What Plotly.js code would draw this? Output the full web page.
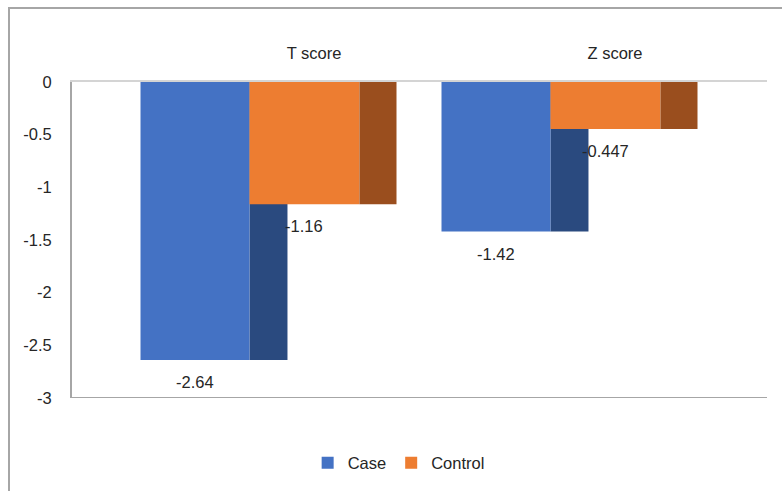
<!DOCTYPE html>
<html>
<head>
<meta charset="utf-8">
<script src="https://cdn.plot.ly/plotly-3.0.1.min.js"></script>
<style>
  html, body { margin: 0; padding: 0; background: #fff; }
  #wrap { position: relative; width: 782px; height: 491px; overflow: hidden; }
  #chart { position: absolute; left: 0; top: 0; width: 782px; height: 491px; }
  #frame { position: absolute; left: 8px; top: 7px; width: 800px; height: 500px;
           border-left: 2px solid #a6a6a6; border-top: 2px solid #a6a6a6;
           pointer-events: none; box-sizing: border-box; }
</style>
</head>
<body>
<div id="wrap">
  <div id="chart"></div>
  <div id="frame"></div>
</div>
<script>
// ---- data ----
const categories = ["T score", "Z score"];
const caseValues = [-2.64, -1.42];
const controlValues = [-1.16, -0.447];
const seriesNames = ["Case", "Control"];
const yTickValues = [0, -0.5, -1, -1.5, -2, -2.5, -3];
const yTickLabels = ["0", "-0.5", "-1", "-1.5", "-2", "-2.5", "-3"];

// ---- styling ----
const FONT = "Liberation Sans, Arial, sans-serif";
const FS = 16.5;
const TXT = "#262626";
const caseFront = "#4472C4", caseSide = "#2A4A7F";
const ctrlFront = "#ED7D31", ctrlSide = "#9A4E1E";

// geometry of the pseudo-3D bars (in category units)
const geo = {
  caseFront: {offset: -0.5764, width: 0.3621},
  caseSide:  {offset: -0.2143, width: 0.1262},
  ctrlFront: {offset: -0.2143, width: 0.3654},
  ctrlSide:  {offset:  0.1512, width: 0.1229}
};

function barTrace(values, g, color, name, showLegend) {
  return {
    type: "bar", x: categories, y: values, name: name,
    offset: g.offset, width: g.width,
    marker: {color: color, line: {width: 0}},
    showlegend: showLegend, hoverinfo: "x+y"
  };
}

const data = [
  barTrace(caseValues, geo.caseSide, caseSide, seriesNames[0] + " side", false),
  barTrace(caseValues, geo.caseFront, caseFront, seriesNames[0], true),
  barTrace(controlValues, geo.ctrlFront, ctrlFront, seriesNames[1], true),
  barTrace(controlValues, geo.ctrlSide, ctrlSide, seriesNames[1] + " side", false)
];

const annotations = [];
categories.forEach((c, i) => {
  annotations.push({
    x: i + geo.caseFront.offset + geo.caseFront.width / 2, y: caseValues[i],
    xref: "x", yref: "y", text: String(caseValues[i]), showarrow: false,
    yanchor: "middle", xanchor: "center", yshift: -22,
    font: {family: FONT, size: FS, color: TXT}
  });
  annotations.push({
    x: i + geo.ctrlFront.offset + geo.ctrlFront.width / 2, y: controlValues[i],
    xref: "x", yref: "y", text: String(controlValues[i]), showarrow: false,
    yanchor: "middle", xanchor: "center", yshift: -22,
    font: {family: FONT, size: FS, color: TXT}
  });
});

const layout = {
  width: 782, height: 491,
  margin: {l: 72, r: 15, t: 82, b: 92.5, pad: 0},
  paper_bgcolor: "#ffffff", plot_bgcolor: "#ffffff",
  barmode: "overlay",
  font: {family: FONT, size: FS, color: TXT},
  xaxis: {
    type: "category", side: "top",
    range: [-0.804, 1.505],
    showgrid: false, zeroline: false,
    showline: true, linecolor: "#d4d4d4", linewidth: 2,
    ticks: "", ticklabelstandoff: 14,
    tickfont: {family: FONT, size: FS, color: TXT},
    fixedrange: true
  },
  yaxis: {
    range: [-3, 0],
    tickvals: yTickValues, ticktext: yTickLabels,
    showgrid: false, zeroline: false,
    showline: true, linecolor: "#a6a6a6", linewidth: 2,
    ticks: "", ticklabelstandoff: 15,
    tickfont: {family: FONT, size: FS, color: TXT},
    fixedrange: true
  },
  shapes: [{
    type: "line", xref: "paper", yref: "y", x0: 0, x1: 1, y0: -3, y1: -3,
    line: {color: "#a6a6a6", width: 2}, layer: "above"
  }],
  annotations: annotations,
  showlegend: true,
  legend: {
    orientation: "h", xref: "paper", x: 0.47, xanchor: "center",
    yref: "container", y: 0.057, yanchor: "middle",
    font: {family: FONT, size: FS, color: TXT},
    itemwidth: 30, bgcolor: "rgba(0,0,0,0)", traceorder: "normal"
  }
};

Plotly.newPlot("chart", data, layout, {displayModeBar: false, staticPlot: true});
</script>
</body>
</html>
